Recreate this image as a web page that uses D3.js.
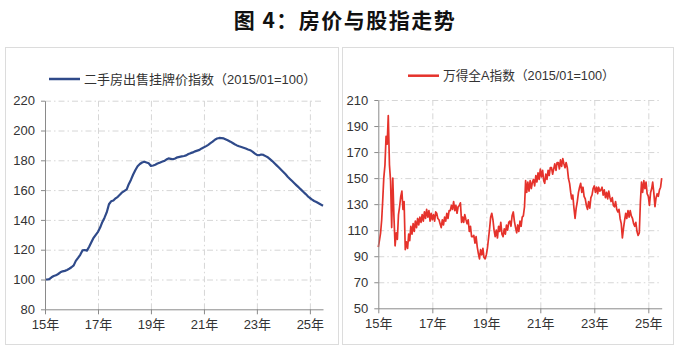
<!DOCTYPE html>
<html>
<head>
<meta charset="utf-8">
<script src="https://cdn.jsdelivr.net/npm/d3@7"></script>
<style>
    body { margin: 0; background: #fff; }
    svg { display: block; }
    text { font-family: "Liberation Sans", "Noto Sans CJK SC", sans-serif; }
</style>
</head>
<body>
<div id="chart"></div>
<script>
// Libellés des axes
const yearTicks = [2015, 2017, 2019, 2021, 2023, 2025];
const yearLabels = ["15年", "17年", "19年", "21年", "23年", "25年"];
const leftTicks = [80, 100, 120, 140, 160, 180, 200, 220];
const rightTicks = [50, 70, 90, 110, 130, 150, 170, 190, 210];

// 二手房出售挂牌价指数, mensuel, 2015/01 -> 2025/07
const houseIndex = [
    100, 100, 100.3, 101.5, 102.3, 102.8, 103.7, 104.8, 105.5, 105.8, 106.4, 107.2,
    108.2, 109.5, 112.5, 114.5, 116.6, 119.5, 119.8, 119.4, 122, 125, 128, 130,
    132, 135, 138.5, 141.5, 145, 150.5, 152.5, 153, 154.5, 155.5, 157, 158.5,
    159.5, 160.5, 164, 167, 170.5, 173.5, 176, 177.5, 178.5, 179, 178.5, 178,
    176.2, 176.5, 177, 177.8, 178.4, 179, 179.5, 180.5, 181.3, 181, 180.7, 181.2,
    182, 182.3, 182.6, 182.9, 183.3, 184.2, 184.8, 185.3, 186, 186.5, 187, 188,
    188.7, 189.5, 190.4, 191.5, 192.5, 193.8, 194.6, 195, 194.9, 194.7, 194, 193.3,
    192.5, 191.6, 190.8, 190, 189.4, 188.9, 188.4, 187.9, 187.3, 186.8, 185.8, 184.6,
    183.6, 183.4, 183.9, 183.6, 182.8, 182, 180.8, 179.5, 178, 176.6, 175.2, 173.7,
    172.2, 170.6, 169, 167.5, 166.1, 164.6, 163.2, 161.8, 160.3, 158.9, 157.5, 156,
    154.7, 153.6, 152.7, 152, 151.2, 150.3, 149.5
];

// 万得全A指数, deux points par mois, 2015/01 -> 2025/07
const windIndex = [
    97, 102, 108, 118, 132, 150, 160, 182, 176, 198, 160, 148, 112, 150, 120, 98, 108, 103, 122, 128, 136, 140, 126, 132,
    95, 101, 96, 107, 102, 113, 107, 115, 109, 117, 112, 119, 114, 120, 116, 122, 117, 124, 119, 126, 120, 125, 117, 123,
    118, 122, 117, 124, 123, 119, 118, 115, 112, 118, 114, 120, 117, 123, 119, 125, 125, 129, 126, 132, 125, 129, 123, 128,
    129, 131, 116, 120, 116, 122, 118, 115, 118, 109, 113, 105, 105, 106, 100, 105, 97, 92, 88, 95, 91, 96, 89, 88,
    91, 96, 104, 112, 120, 123, 118, 110, 105, 110, 104, 113, 109, 116, 107, 105, 111, 107, 114, 110, 116, 117, 113, 121,
    124, 117, 112, 108, 114, 109, 117, 113, 120, 121, 128, 148, 139, 147, 140, 148, 142, 147, 149, 144, 152, 147, 154, 149,
    157, 151, 156, 148, 146, 153, 149, 156, 152, 158, 158, 153, 157, 161, 156, 162, 162, 157, 164, 159, 165, 161, 158, 162,
    158, 150, 146, 139, 134, 137, 127, 119, 127, 132, 139, 143, 146, 139, 143, 136, 134, 129, 126, 132, 127, 135, 137, 142,
    144, 139, 143, 138, 143, 140, 141, 143, 137, 141, 135, 139, 134, 140, 135, 132, 135, 129, 128, 132, 126, 124, 126, 119,
    115, 104, 112, 118, 123, 119, 125, 120, 125, 121, 119, 115, 113, 116, 109, 106, 108, 132, 147, 139, 148, 142, 147, 138,
    136, 129, 139, 142, 147, 139, 128, 135, 138, 136, 141, 143, 150
];

const width = 680;
const height = 347;

const svg = d3.select("#chart")
    .append("svg")
    .attr("width", width)
    .attr("height", height);

// Titre
svg.append("text")
    .attr("x", 345)
    .attr("y", 28)
    .attr("text-anchor", "middle")
    .style("font-family", "'Noto Sans CJK SC', sans-serif")
    .style("font-size", "21px")
    .style("font-weight", "bold")
    .style("letter-spacing", "1.5px")
    .style("fill", "#111")
    .text("图 4：房价与股指走势");

function drawPanel(p) {
    // cadre du panneau
    svg.append("rect")
        .attr("x", p.box[0] + 0.5).attr("y", 47.5)
        .attr("width", p.box[1]).attr("height", 297)
        .attr("fill", "none")
        .attr("stroke", "#dcdcdc");

    const x = d3.scaleTime()
        .domain([new Date(2015, 0, 1), new Date(2025, 6, 1)])
        .range([p.left, p.right]);
    const y = d3.scaleLinear()
        .domain([p.ticks[0], p.ticks[p.ticks.length - 1]])
        .range([p.bottom, p.top]);

    const g = svg.append("g");

    // grille horizontale
    g.append("g")
        .attr("transform", `translate(${p.left},0)`)
        .call(d3.axisLeft(y).tickValues(p.ticks.slice(1)).tickSize(-(p.right - p.left)).tickFormat(""))
        .call(s => s.select(".domain").remove())
        .call(s => s.selectAll("line")
            .attr("stroke", "#d6d6d6")
            .attr("stroke-dasharray", "6,3,1.5,3"));

    // grille verticale
    g.append("g")
        .attr("transform", `translate(0,${p.bottom})`)
        .call(d3.axisTop(x).tickValues(yearTicks.slice(1).map(a => new Date(a, 0, 1)))
            .tickSize(p.bottom - p.top).tickFormat(""))
        .call(s => s.select(".domain").remove())
        .call(s => s.selectAll("line")
            .attr("stroke", "#d6d6d6")
            .attr("stroke-dasharray", "6,3,1.5,3"));

    // ligne de données
    const line = d3.line()
        .x(d => x(d.date))
        .y(d => y(d.value));
    g.append("path")
        .datum(p.data)
        .attr("d", line)
        .attr("fill", "none")
        .attr("stroke", p.color)
        .attr("stroke-width", p.strokeWidth)
        .attr("stroke-linejoin", "round");

    // axe Y
    g.append("g")
        .attr("transform", `translate(${p.left},0)`)
        .call(d3.axisLeft(y).tickValues(p.ticks).tickSize(4).tickPadding(6).tickSizeOuter(0))
        .call(s => s.select(".domain").attr("stroke", "#8a8a8a"))
        .call(s => s.selectAll("line").attr("stroke", "#8a8a8a"))
        .call(s => s.selectAll("text").style("font-size", "13px").style("fill", "#333"));

    // axe X
    g.append("g")
        .attr("transform", `translate(0,${p.bottom})`)
        .call(d3.axisBottom(x).tickValues(yearTicks.map(a => new Date(a, 0, 1)))
            .tickFormat((d, i) => yearLabels[i]).tickSize(5).tickPadding(5).tickSizeOuter(0))
        .call(s => s.select(".domain").attr("stroke", "#8a8a8a"))
        .call(s => s.selectAll("line").attr("stroke", "#8a8a8a"))
        .call(s => s.selectAll("text").style("font-size", "13px").style("fill", "#333"));

    // légende
    svg.append("line")
        .attr("x1", p.legendX).attr("x2", p.legendX + 31)
        .attr("y1", p.legendY).attr("y2", p.legendY)
        .attr("stroke", p.color)
        .attr("stroke-width", 2.5);
    svg.append("text")
        .attr("x", p.legendX + 35)
        .attr("y", p.legendY + 4.5)
        .style("font-size", p.labelSize)
        .style("fill", "#333")
        .text(p.label);
}

const houseData = houseIndex.map((v, i) => ({date: new Date(2015, i, 1), value: v}));
const windData = windIndex.map((v, i) => ({date: new Date(2015, Math.floor(i / 2), i % 2 === 0 ? 1 : 16), value: v}));

drawPanel({
    box: [5, 333],
    left: 45, right: 323, top: 100.7, bottom: 309.3,
    ticks: leftTicks,
    data: houseData,
    color: "#2f4a8a",
    strokeWidth: 2.2,
    legendX: 49, legendY: 79,
    label: "二手房出售挂牌价指数（2015/01=100）",
    labelSize: "13px"
});

drawPanel({
    box: [342, 331],
    left: 378.3, right: 661.7, top: 100, bottom: 308.3,
    ticks: rightTicks,
    data: windData,
    color: "#e5322b",
    strokeWidth: 1.7,
    legendX: 408, legendY: 75.7,
    label: "万得全A指数（2015/01=100）",
    labelSize: "12.7px"
});
</script>
</body>
</html>
